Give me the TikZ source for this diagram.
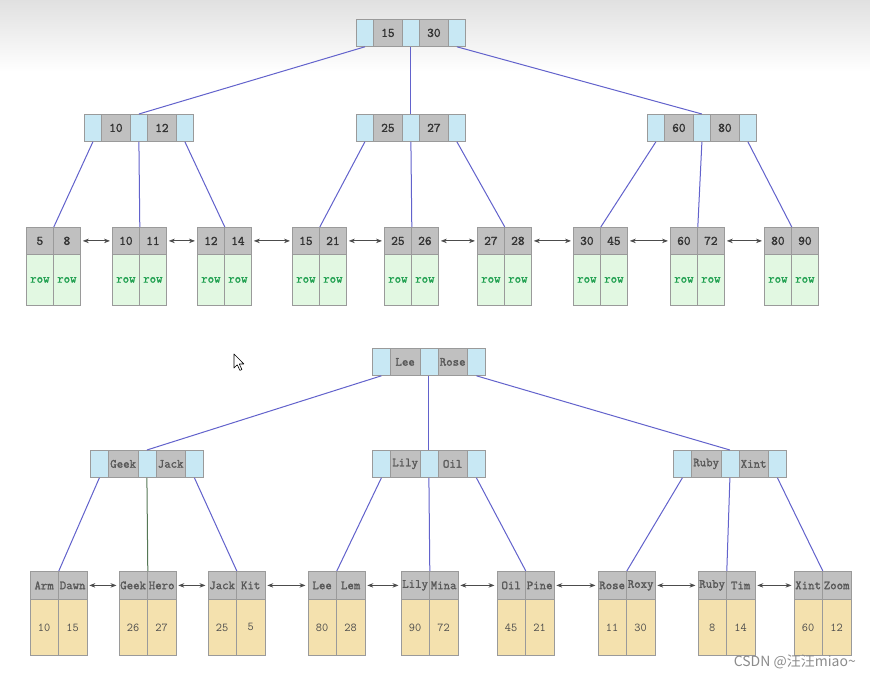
\documentclass[tikz,border=0pt]{standalone}
\usepackage{fontspec}
\setmonofont{Latin Modern Mono}[AutoFakeBold=1.6]
\newfontfamily\cjk{Noto Sans CJK SC}
\usetikzlibrary{arrows.meta}

\definecolor{ptrblue}{HTML}{C8E8F4}
\definecolor{keygray}{HTML}{C0C0C0}
\definecolor{cellline}{HTML}{9A9A9A}
\definecolor{rowgreen}{HTML}{E2F8E2}
\definecolor{rowtext}{HTML}{20A050}
\definecolor{valyellow}{HTML}{F4E1AE}
\definecolor{linkblue}{HTML}{6262CC}
\definecolor{linkgreen}{HTML}{557755}

\begin{document}
\begin{tikzpicture}[x=1pt,y=-1pt,
    cell/.style={draw=cellline, line width=0.8pt, inner sep=0pt, anchor=north west},
    ptrcell/.style={cell, fill=ptrblue, minimum width=17pt, minimum height=27pt},
    keycell/.style={cell, fill=keygray, minimum width=29pt, minimum height=27pt,
        font=\ttfamily\bfseries\fontsize{13}{15}\selectfont, text=black!80},
    leafkey/.style={cell, fill=keygray, minimum width=27pt, minimum height=27pt,
        font=\ttfamily\bfseries\fontsize{13}{15}\selectfont, text=black!80},
    rowcell/.style={cell, fill=rowgreen, minimum width=27pt, minimum height=51pt,
        font=\ttfamily\bfseries\fontsize{12.5}{14}\selectfont, text=rowtext},
    nameptr/.style={cell, fill=ptrblue, minimum width=18pt, minimum height=27pt},
    namekey/.style={cell, fill=keygray, minimum width=29.5pt, minimum height=27pt,
        font=\ttfamily\bfseries\fontsize{12.5}{14}\selectfont, text=black!65},
    nameleaf/.style={cell, fill=keygray, minimum width=28.5pt, minimum height=28pt,
        font=\ttfamily\bfseries\fontsize{12.5}{14}\selectfont, text=black!65},
    valcell/.style={cell, fill=valyellow, minimum width=28.5pt, minimum height=56pt,
        font=\ttfamily\fontsize{12}{14}\selectfont, text=black!70},
    link/.style={draw=linkblue, line width=1pt},
    chain/.style={<->, >={Stealth[length=6pt,width=4.5pt]}, draw=black!70, line width=0.8pt,
        shorten <=2pt, shorten >=2pt}
]
    \useasboundingbox (0,0) rectangle (870,679);
    \fill[white] (0,0) rectangle (870,679);
    \shade[top color=black!12, bottom color=white] (0,0) rectangle (870,72);

    % upper tree: numbers
    \foreach \nm/\x/\y/\ka/\kb in {root/356/19/15/30, a/84/114/10/12, b/356/114/25/27, c/647/114/60/80}{
        \node[ptrcell] (\nm-p1) at (\x,\y) {};
        \node[keycell] (\nm-k1) at (\x+17,\y) {\ka};
        \node[ptrcell] (\nm-p2) at (\x+46,\y) {};
        \node[keycell] (\nm-k2) at (\x+63,\y) {\kb};
        \node[ptrcell] (\nm-p3) at (\x+92,\y) {};
    }

    \foreach \nm/\x/\ka/\kb in {t1/26/5/8, t2/112/10/11, t3/197/12/14, t4/292/15/21, t5/384/25/26,
                               t6/477/27/28, t7/573/30/45, t8/670/60/72, t9/764/80/90}{
        \node[leafkey] (\nm-k1) at (\x,227) {\ka};
        \node[leafkey] (\nm-k2) at (\x+27,227) {\kb};
        \node[rowcell] (\nm-r1) at (\x,254) {row};
        \node[rowcell] (\nm-r2) at (\x+27,254) {row};
    }

    \draw[link] (root-p1.south) -- (a-p2.north);
    \draw[link] (root-p2.south) -- (b-p2.north);
    \draw[link] (root-p3.south) -- (c-p2.north);
    \draw[link] (a-p1.south) -- (t1-k1.north east);
    \draw[link] (a-p2.south) -- (t2-k1.north east);
    \draw[link] (a-p3.south) -- (t3-k1.north east);
    \draw[link] (b-p1.south) -- (t4-k1.north east);
    \draw[link] (b-p2.south) -- (t5-k1.north east);
    \draw[link] (b-p3.south) -- (t6-k1.north east);
    \draw[link] (c-p1.south) -- (t7-k1.north east);
    \draw[link] (c-p2.south) -- (t8-k1.north east);
    \draw[link] (c-p3.south) -- (t9-k1.north east);

    \foreach \l/\r in {t1/t2, t2/t3, t3/t4, t4/t5, t5/t6, t6/t7, t7/t8, t8/t9}
        \draw[chain] (\l-k2.east) -- (\r-k1.west);

    % lower tree: names
    \foreach \nm/\x/\y/\ka/\kb in {top/372/348/Lee/Rose, d/90/450/Geek/Jack, e/372/450/Lily/Oil, f/673/450/Ruby/Xint}{
        \node[nameptr] (\nm-p1) at (\x,\y) {};
        \node[namekey] (\nm-k1) at (\x+18,\y) {\ka};
        \node[nameptr] (\nm-p2) at (\x+47.5,\y) {};
        \node[namekey] (\nm-k2) at (\x+65.5,\y) {\kb};
        \node[nameptr] (\nm-p3) at (\x+95,\y) {};
    }

    \foreach \nm/\x/\ka/\kb/\va/\vb in {n1/29.5/Arm/Dawn/10/15, n2/118.5/Geek/Hero/26/27, n3/207.5/Jack/Kit/25/5,
                                       n4/307.5/Lee/Lem/80/28, n5/400.5/Lily/Mina/90/72, n6/496.5/Oil/Pine/45/21,
                                       n7/597.5/Rose/Roxy/11/30, n8/697.5/Ruby/Tim/8/14, n9/793.5/Xint/Zoom/60/12}{
        \node[nameleaf] (\nm-k1) at (\x,571) {\ka};
        \node[nameleaf] (\nm-k2) at (\x+28.5,571) {\kb};
        \node[valcell] (\nm-v1) at (\x,599) {\va};
        \node[valcell] (\nm-v2) at (\x+28.5,599) {\vb};
    }

    \draw[link] (top-p1.south) -- (d-p2.north);
    \draw[link] (top-p2.south) -- (e-p2.north);
    \draw[link] (top-p3.south) -- (f-p2.north);
    \draw[link] (d-p1.south) -- (n1-k1.north east);
    \draw[link, draw=linkgreen] (d-p2.south) -- (n2-k1.north east);
    \draw[link] (d-p3.south) -- (n3-k1.north east);
    \draw[link] (e-p1.south) -- (n4-k1.north east);
    \draw[link] (e-p2.south) -- (n5-k1.north east);
    \draw[link] (e-p3.south) -- (n6-k1.north east);
    \draw[link] (f-p1.south) -- (n7-k1.north east);
    \draw[link] (f-p2.south) -- (n8-k1.north east);
    \draw[link] (f-p3.south) -- (n9-k1.north east);

    \foreach \l/\r in {n1/n2, n2/n3, n3/n4, n4/n5, n5/n6, n6/n7, n7/n8, n8/n9}
        \draw[chain] (\l-k2.east) -- (\r-k1.west);

    % mouse pointer
    \draw[fill=white, line width=0.6pt, line join=round] (234,354) -- ++(0,14) -- ++(3.3,-3.2)
        -- ++(2.6,5.6) -- ++(2,-0.9) -- ++(-2.6,-5.5) -- ++(4.6,0) -- cycle;

    \node[anchor=east, inner sep=0pt, text=black!45, font=\cjk\fontsize{14}{16}\selectfont]
        (mark) at (856,662) {CSDN @汪汪miao\textasciitilde};
\end{tikzpicture}
\end{document}
